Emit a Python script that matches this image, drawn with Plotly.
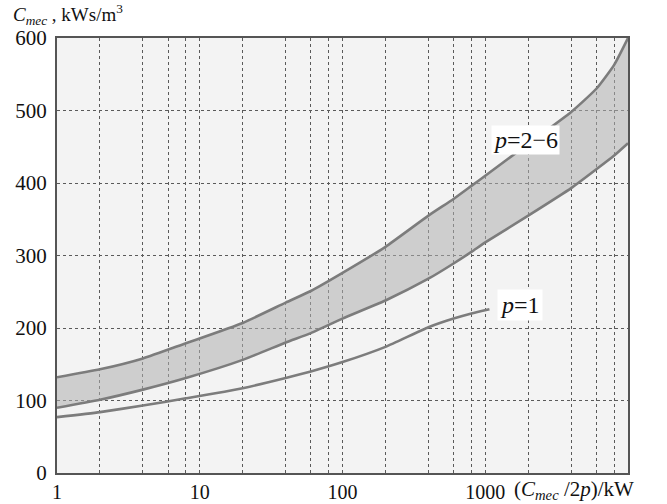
import math
import plotly.graph_objects as go

# ---- data ----
x_band = [1, 2, 4, 8, 20, 40, 60, 100, 200, 400, 600, 800, 1000, 2000, 4000, 6000, 8000, 10000]
band_upper = [132, 143, 158, 179, 207, 235, 251, 276, 312, 355, 378, 396, 410, 454, 498, 530, 563, 600]
band_lower = [90, 101, 115, 131, 156, 180, 193, 213, 238, 268, 289, 305, 318, 355, 393, 419, 438, 455]

x_p1 = [1, 2, 4, 8, 20, 40, 60, 100, 200, 400, 600, 800, 1070]
p1_values = [77, 84, 93, 103, 117, 131, 140, 153, 174, 201, 213, 220, 226]

x_tickvals = [1, 2, 4, 6, 8, 10, 20, 40, 60, 80, 100, 200, 400, 600, 800,
              1000, 2000, 4000, 6000, 8000, 10000]
x_ticktext = ["1", "", "", "", "", "10", "", "", "", "", "100", "", "", "", "",
              "1000", "", "", "", "", ""]
y_tickvals = [0, 100, 200, 300, 400, 500, 600]

label_p26 = "<i>p</i>=2\u22126"
label_p1 = "<i>p</i>=1"
label_p26_pos = (1900, 460)
label_p1_pos = (1750, 232)

FONT = "Liberation Serif"
LINE = "#7c7c7c"
LW = 2.6

fig = go.Figure()
fig.add_trace(go.Scatter(x=x_band, y=band_lower, mode="lines",
                         line=dict(color=LINE, width=LW, shape="spline", smoothing=0.5),
                         hoverinfo="skip", showlegend=False))
fig.add_trace(go.Scatter(x=x_band, y=band_upper, mode="lines", fill="tonexty",
                         fillcolor="rgba(175,175,175,0.55)",
                         line=dict(color=LINE, width=LW, shape="spline", smoothing=0.5),
                         hoverinfo="skip", showlegend=False))
fig.add_trace(go.Scatter(x=x_p1, y=p1_values, mode="lines",
                         line=dict(color=LINE, width=LW, shape="spline", smoothing=0.5),
                         hoverinfo="skip", showlegend=False))

fig.add_annotation(x=math.log10(label_p26_pos[0]), y=label_p26_pos[1], xref="x", yref="y",
                   text=label_p26, showarrow=False, bgcolor="white",
                   font=dict(family=FONT, size=24, color="#111"), borderpad=1)
fig.add_annotation(x=math.log10(label_p1_pos[0]), y=label_p1_pos[1], xref="x", yref="y",
                   text=label_p1, showarrow=False, bgcolor="white",
                   font=dict(family=FONT, size=24, color="#111"), borderpad=2)

fig.add_annotation(x=-0.080, y=1.053, xref="paper", yref="paper", xanchor="left", yanchor="middle",
                   text="<i>C<sub>mec</sub></i> , kWs/m<sup>3</sup>", showarrow=False,
                   font=dict(family=FONT, size=19, color="#111"))
fig.add_annotation(x=0.797, y=-0.04, xref="paper", yref="paper", xanchor="left", yanchor="middle",
                   text="(<i>C<sub>mec</sub></i> /2<i>p</i>)/kW", showarrow=False,
                   font=dict(family=FONT, size=21, color="#111"))

fig.update_layout(
    width=667, height=504,
    margin=dict(l=57, r=39, t=38, b=31),
    paper_bgcolor="white", plot_bgcolor="#f3f3f3",
    font=dict(family=FONT, size=21, color="#111"),
    xaxis=dict(type="log", range=[0, 4], tickvals=x_tickvals, ticktext=x_ticktext,
               showgrid=True, gridcolor="#5a5a5a", gridwidth=1.3, griddash="dot",
               showline=True, linecolor="#555", linewidth=2.2, mirror=True,
               ticks="", zeroline=False, ticklabelstandoff=0, automargin=False,
               tickfont=dict(family=FONT, size=20)),
    yaxis=dict(range=[0, 600], tickvals=y_tickvals,
               showgrid=True, gridcolor="#5a5a5a", gridwidth=1.3, griddash="dot",
               showline=True, linecolor="#555", linewidth=2.2, mirror=True,
               ticks="", zeroline=False, ticklabelstandoff=4, automargin=False,
               tickfont=dict(family=FONT, size=21)),
)

fig.write_html("out.html")
